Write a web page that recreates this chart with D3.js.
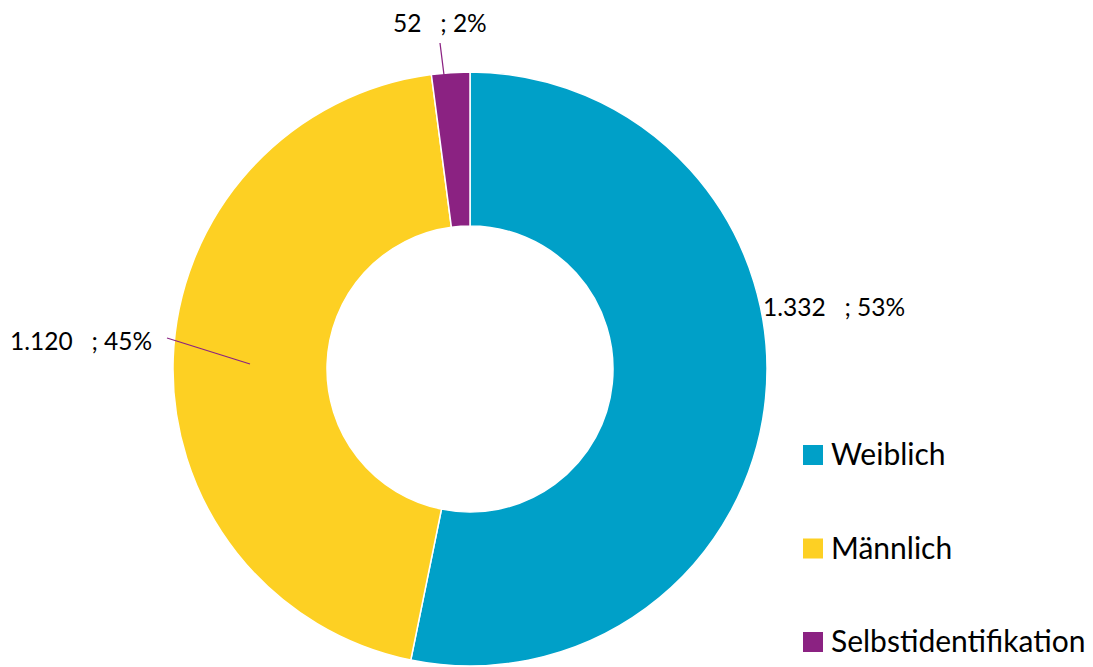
<!DOCTYPE html>
<html>
<head>
<meta charset="utf-8">
<script src="https://cdn.jsdelivr.net/npm/d3@7"></script>
<style>
  body { margin: 0; background: #fff; }
  text { font-family: Lato, "Open Sans", sans-serif; fill: #000; }
</style>
</head>
<body>
<svg id="chart"></svg>
<script>
const categories = ["Weiblich", "Männlich", "Selbstidentifikation"];
const values = [1332, 1120, 52];
const valueLabels = ["1.332", "1.120", "52"];
const percentLabels = ["53%", "45%", "2%"];
const colors = ["#00A0C8", "#FDD023", "#8B2282"];

const width = 1093, height = 667;
const cx = 470, cy = 369;
const outerR = 297, innerR = 143;

const svg = d3.select("#chart").attr("width", width).attr("height", height);

const data = categories.map((c, i) => ({ name: c, value: values[i], i }));

const pie = d3.pie().value(d => d.value).sort(null);
const arc = d3.arc().innerRadius(innerR).outerRadius(outerR);
const arcs = pie(data);

const g = svg.append("g").attr("transform", `translate(${cx},${cy})`);

g.selectAll("path")
  .data(arcs)
  .enter().append("path")
  .attr("d", arc)
  .attr("fill", d => colors[d.data.i])
  .attr("stroke", "#fff")
  .attr("stroke-width", 1.5);

// label positions (relative to center) and leader lines
const labelPos = [
  { x: 293, y: -53, line: null },
  { x: -460, y: -19, line: [[-303, -31], [-220, -5]] },
  { x: -77, y: -337, line: [[-30, -326], [-26, -294]] }
];

arcs.forEach((d, k) => {
  const p = labelPos[k];
  if (p.line) {
    g.append("polyline")
      .attr("points", p.line.map(q => q.join(",")).join(" "))
      .attr("fill", "none")
      .attr("stroke", colors[2])
      .attr("stroke-width", 1.2);
  }
  g.append("text")
    .attr("x", p.x)
    .attr("y", p.y)
    .attr("font-size", 24.5)
    .attr("xml:space", "preserve")
    .text(valueLabels[k] + "   ; " + percentLabels[k]);
});

// legend
const legend = svg.append("g").attr("transform", "translate(803,445)");
const items = legend.selectAll("g")
  .data(categories)
  .enter().append("g")
  .attr("transform", (d, i) => `translate(0,${i * 93.5})`);

items.append("rect")
  .attr("width", 20).attr("height", 20)
  .attr("fill", (d, i) => colors[i]);

items.append("text")
  .attr("x", 28)
  .attr("y", 20)
  .attr("font-size", 30)
  .text(d => d);
</script>
</body>
</html>
